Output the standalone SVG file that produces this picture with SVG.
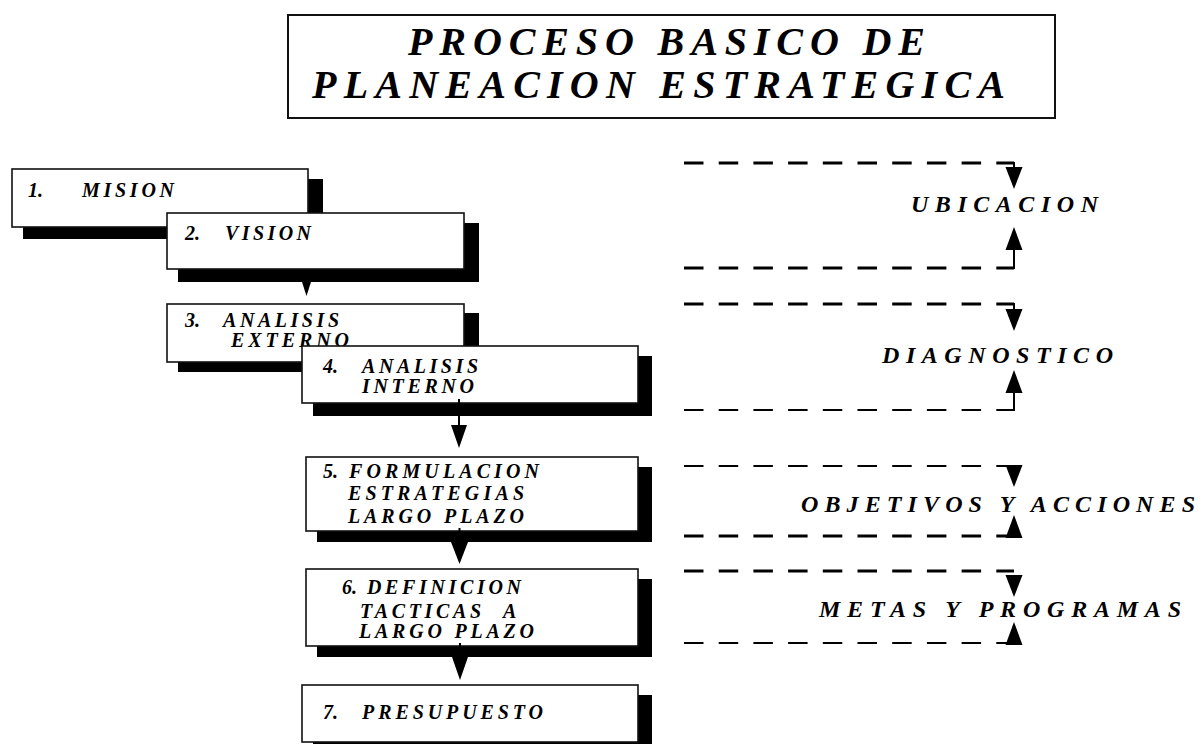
<svg xmlns="http://www.w3.org/2000/svg" xmlns:xlink="http://www.w3.org/1999/xlink" width="1203" height="744" viewBox="0 0 1203 744">
<style>
.t{font-family:"Liberation Serif","Times New Roman",serif;font-weight:bold;font-style:italic;fill:#000}
.title{font-size:40px}
.bt{font-size:20px}
.lab{font-size:24px}
.box{fill:#fff;stroke:#111;stroke-width:1.6}
.sh{fill:#000}
.dk{fill:none;stroke:#000;stroke-width:3;stroke-dasharray:19.5 15.2}
.dn{fill:none;stroke:#000;stroke-width:2;stroke-dasharray:19.5 15.2}
.v{stroke:#000;stroke-width:2;fill:none}
.ah{fill:#000}
</style>
<defs>
<polygon id="adn" points="-8.5,0 8.5,0 0,22"/>
<polygon id="aup" points="-8.5,0 8.5,0 0,-23"/>
</defs>
<rect width="1203" height="744" fill="#fff"/>

<g id="title">
<rect x="288" y="15" width="767" height="103" fill="#fff" stroke="#111" stroke-width="2"/>
<text class="t title" x="408" y="55" textLength="517" lengthAdjust="spacing">PROCESO BASICO DE</text>
<text class="t title" x="312" y="98" textLength="693" lengthAdjust="spacing">PLANEACION ESTRATEGICA</text>
</g>

<g id="n1">
<rect class="sh" x="23" y="179" width="300" height="60"/>
<rect class="box" x="12" y="169" width="296" height="58"/>
<text class="t bt" y="197"><tspan x="28">1.</tspan><tspan x="82" textLength="92" lengthAdjust="spacing">MISION</tspan></text>
</g>
<g id="n2">
<rect class="sh" x="178" y="223" width="301" height="59"/>
<rect class="box" x="167" y="213" width="297" height="56"/>
<text class="t bt" y="240"><tspan x="185">2.</tspan><tspan x="225" textLength="86" lengthAdjust="spacing">VISION</tspan></text>
</g>
<g id="n3">
<rect class="sh" x="178" y="313" width="301" height="59"/>
<rect class="box" x="167" y="304" width="297" height="58"/>
<text class="t bt" y="327"><tspan x="185">3.</tspan><tspan x="223" textLength="116" lengthAdjust="spacing">ANALISIS</tspan></text>
<text class="t bt" x="231" y="347" textLength="118" lengthAdjust="spacing">EXTERNO</text>
</g>
<g id="n4">
<rect class="sh" x="313" y="356" width="339" height="60"/>
<rect class="box" x="302" y="346" width="336" height="57"/>
<text class="t bt" y="373"><tspan x="323">4.</tspan><tspan x="362" textLength="116" lengthAdjust="spacing">ANALISIS</tspan></text>
<text class="t bt" x="362" y="393" textLength="112" lengthAdjust="spacing">INTERNO</text>
</g>
<g id="n5">
<rect class="sh" x="317" y="467" width="335" height="75"/>
<rect class="box" x="306" y="457" width="332" height="74"/>
<text class="t bt" y="478"><tspan x="323">5.</tspan><tspan x="349" textLength="190" lengthAdjust="spacing">FORMULACION</tspan></text>
<text class="t bt" x="348" y="500" textLength="176" lengthAdjust="spacing">ESTRATEGIAS</text>
<text class="t bt" x="348" y="523" textLength="176" lengthAdjust="spacing">LARGO PLAZO</text>
</g>
<g id="n6">
<rect class="sh" x="317" y="579" width="335" height="78"/>
<rect class="box" x="306" y="569" width="332" height="77"/>
<text class="t bt" y="594"><tspan x="342">6.</tspan><tspan x="367" textLength="154" lengthAdjust="spacing">DEFINICION</tspan></text>
<text class="t bt" y="618" xml:space="preserve"><tspan x="360" textLength="121" lengthAdjust="spacing">TACTICAS</tspan><tspan>   </tspan><tspan x="503">A</tspan></text>
<text class="t bt" x="359" y="638" textLength="175" lengthAdjust="spacing">LARGO PLAZO</text>
</g>
<g id="n7">
<rect class="sh" x="313" y="695" width="339" height="60"/>
<rect class="box" x="302" y="685" width="336" height="57"/>
<text class="t bt" y="719"><tspan x="323">7.</tspan><tspan x="362" textLength="181" lengthAdjust="spacing">PRESUPUESTO</tspan></text>
</g>

<g id="labels">
<text class="t lab" x="911" y="212" textLength="187" lengthAdjust="spacing">UBICACION</text>
<text class="t lab" x="882" y="363" textLength="231" lengthAdjust="spacing">DIAGNOSTICO</text>
<text class="t lab" x="801" y="512" textLength="394" lengthAdjust="spacing">OBJETIVOS Y ACCIONES</text>
<text class="t lab" x="819" y="617" textLength="362" lengthAdjust="spacing">METAS Y PROGRAMAS</text>
</g>

<g id="connectors">
<polygon class="ah" points="302,282 311,282 306.5,296"/>
<line class="v" x1="459" y1="399" x2="459" y2="426"/>
<polygon class="ah" points="451,425 467,425 459,448"/>
<line class="v" x1="459.5" y1="528" x2="459.5" y2="543"/>
<polygon class="ah" points="451,542 468,542 459.5,564"/>
<line class="v" x1="460" y1="643" x2="460" y2="658"/>
<polygon class="ah" points="452,657 468,657 460,680"/>

<line class="dk" x1="684" y1="163" x2="1014" y2="163"/>
<line class="v" x1="1014" y1="162" x2="1014" y2="168"/>
<use xlink:href="#adn" class="ah" x="1014" y="167"/>
<use xlink:href="#aup" class="ah" x="1014" y="250"/>
<line class="v" x1="1014" y1="249" x2="1014" y2="269"/>
<line class="dk" x1="684" y1="268" x2="1014" y2="268"/>

<line class="dk" x1="684" y1="304" x2="1014" y2="304"/>
<line class="v" x1="1014" y1="303" x2="1014" y2="310"/>
<use xlink:href="#adn" class="ah" x="1014" y="309"/>
<use xlink:href="#aup" class="ah" x="1014" y="393"/>
<line class="v" x1="1014" y1="392" x2="1014" y2="411"/>
<line class="dn" x1="684" y1="410" x2="1014" y2="410"/>

<line class="dn" x1="684" y1="466" x2="1014" y2="466"/>
<use xlink:href="#adn" class="ah" x="1014" y="465"/>
<line class="dk" x1="684" y1="536" x2="1014" y2="536"/>
<use xlink:href="#aup" class="ah" x="1014" y="538"/>

<line class="dk" x1="684" y1="571" x2="1014" y2="571"/>
<use xlink:href="#adn" class="ah" x="1014" y="575"/>
<line class="dn" x1="684" y1="643" x2="1014" y2="643"/>
<use xlink:href="#aup" class="ah" x="1014" y="645"/>
</g>
</svg>
